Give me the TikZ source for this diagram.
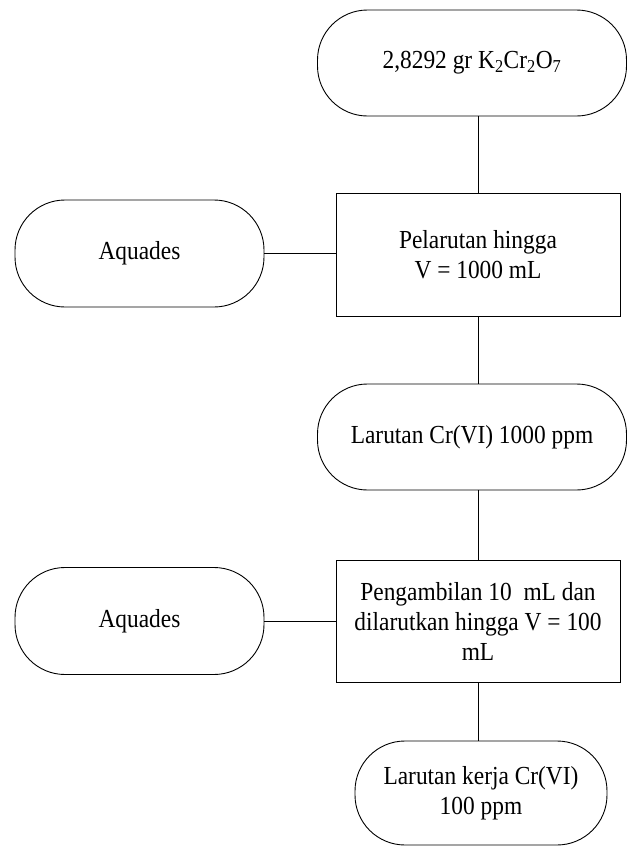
\documentclass[tikz,border=0pt]{standalone}
\usepackage{fontspec}
\setmainfont{Liberation Serif}[FakeStretch=0.9]
\begin{document}
\begin{tikzpicture}[x=1pt,y=1pt,
  every node/.style={inner sep=0pt, font=\fontsize{26}{30}\selectfont, align=center},
  terminal/.style={draw, line width=0.9pt, rounded corners=50pt},
  process/.style={draw, line width=0.9pt},
  link/.style={line width=0.9pt}]
\useasboundingbox (0,0) rectangle (627,-846);

% start material
\node[terminal, minimum width=309pt, minimum height=106pt] (t1) at (472,-63) {2,8292 gr K\textsubscript{2}Cr\textsubscript{2}O\textsubscript{7}};
% first dissolution
\node[process, minimum width=284pt, minimum height=123pt] (b1) at (478,-254.5) {Pelarutan hingga\\V = 1000 mL};
\node[terminal, minimum width=249pt, minimum height=107pt] (a1) at (139.5,-253.5) {Aquades};
% stock solution
\node[terminal, minimum width=309pt, minimum height=106pt] (t2) at (472,-437) {Larutan Cr(VI) 1000 ppm};
% dilution
\node[process, minimum width=284pt, minimum height=122pt] (b2) at (478,-621) {Pengambilan 10\ \ mL dan\\dilarutkan hingga V = 100\\mL};
\node[terminal, minimum width=249pt, minimum height=107pt] (a2) at (139.5,-621) {Aquades};
% working solution
\node[terminal, minimum width=252pt, minimum height=104pt] (t3) at (481,-793) {Larutan kerja Cr(VI)\\100 ppm};

% connectors
\draw[link] (t1.south -| b1.north) -- (b1.north);
\draw[link] (a1.east) -- (a1.east -| b1.west);
\draw[link] (b1.south) -- (b1.south |- t2.north);
\draw[link] (t2.south -| b2.north) -- (b2.north);
\draw[link] (a2.east) -- (b2.west);
\draw[link] (b2.south) -- (b2.south |- t3.north);
\end{tikzpicture}
\end{document}
